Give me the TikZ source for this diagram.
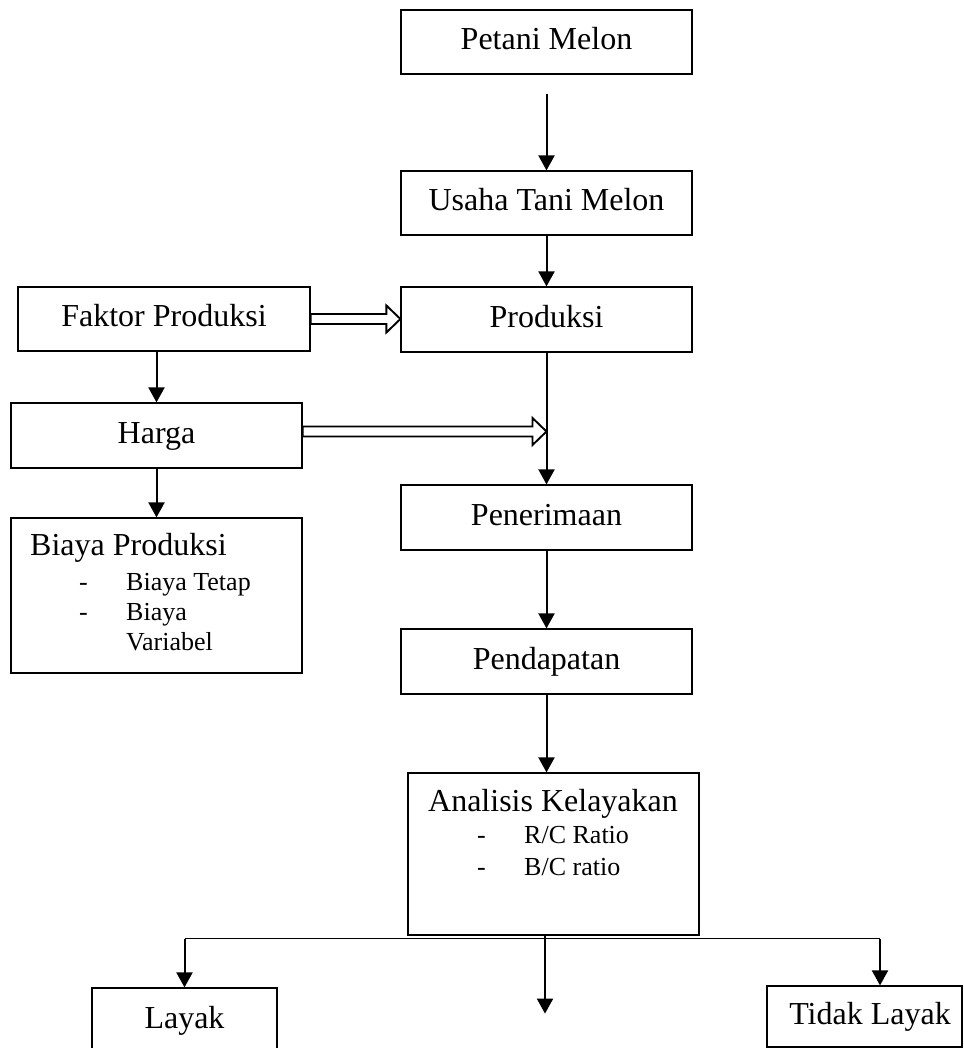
\documentclass[tikz,border=0pt]{standalone}
\usepackage{fontspec}
\setmainfont{Liberation Serif}
\usetikzlibrary{arrows.meta,calc}
\newcommand\mainsz{\fontsize{32pt}{38pt}\selectfont}
\newcommand\subsz{\fontsize{26pt}{31pt}\selectfont}
\begin{document}
\begin{tikzpicture}[x=1pt,y=-1pt,
  box/.style={draw,line width=1.2pt,minimum width=291pt,minimum height=64pt,inner sep=0pt,
    font=\mainsz,text height=22pt,text depth=7pt},
  txt/.style={inner sep=0pt},
  arr/.style={line width=2pt,-{Triangle[length=15pt,width=16pt]}},
  thinline/.style={line width=1.2pt},
  hollow/.style={line width=1.9pt,line join=miter,
    to path={let \p1=(\tikztostart), \p2=(\tikztotarget) in
      (\x1,\y1+5pt) -- (\x2-14pt,\y2+5pt) -- (\x2-14pt,\y2+13.5pt) -- (\x2,\y2)
      -- (\x2-14pt,\y2-13.5pt) -- (\x2-14pt,\y2-5pt) -- (\x1,\y1-5pt) -- cycle}}]
\useasboundingbox (0,0) rectangle (963,1048);
\clip (0,0) rectangle (963,1048);

% main column
\node[box] (petani) at (546.5,42) {Petani Melon};
\node[box] (usaha) at (546.5,203) {Usaha Tani Melon};
\node[box,minimum height=65pt] (produksi) at (546.5,319.5) {Produksi};
\node[box,minimum height=65pt] (penerimaan) at (546.5,517.5) {Penerimaan};
\node[box,minimum height=65pt] (pendapatan) at (546.5,661.5) {Pendapatan};
\node[box,minimum height=162pt] (analisis) at (553.5,854) {};
\node[txt,font=\mainsz,anchor=base] (analisist) at (553,811) {Analisis Kelayakan};
\node[txt,font=\subsz,anchor=base west] (d1) at (477,843) {-};
\node[txt,font=\subsz,anchor=base west] (rc) at (524,843) {R/C Ratio};
\node[txt,font=\subsz,anchor=base west] (d2) at (477,875) {-};
\node[txt,font=\subsz,anchor=base west] (bc) at (524,875) {B/C ratio};

% left column
\node[box,minimum width=292pt] (faktor) at (164,319) {Faktor Produksi};
\node[box,minimum height=65pt] (harga) at (156.5,435.5) {Harga};
\node[box,minimum width=291pt,minimum height=155pt] (biaya) at (156.5,595.5) {};
\node[txt,font=\mainsz,anchor=base west] (biayat) at (30,555) {Biaya Produksi};
\node[txt,font=\subsz,anchor=base west] (b1) at (79,590) {-};
\node[txt,font=\subsz,anchor=base west] (bt) at (126,590) {Biaya Tetap};
\node[txt,font=\subsz,anchor=base west] (b2) at (79,620) {-};
\node[txt,font=\subsz,anchor=base west] (bv) at (126,620) {Biaya};
\node[txt,font=\subsz,anchor=base west] (bv2) at (126,650) {Variabel};

% bottom
\node[box,minimum width=185pt,minimum height=66pt] (layak) at (184.5,1021) {Layak};
\node[box,minimum width=195pt,minimum height=61pt] (tidak) at (864.5,1016.5) {\hspace*{11pt}Tidak Layak};

% connectors
\draw[arr] ($(petani.south)+(0,19)$) -- (usaha.north);
\draw[arr] (usaha.south) -- (produksi.north);
\draw[arr] (produksi.south) -- (penerimaan.north);
\draw[arr] (penerimaan.south) -- (pendapatan.north);
\draw[arr] (pendapatan.south) -- (pendapatan.south |- analisis.north);
\draw[arr] (harga.north |- faktor.south) -- (harga.north);
\draw[arr] (harga.south) -- (biaya.north);

\draw[hollow] (faktor.east) to (faktor.east -| produksi.west);
\draw[hollow] ($(harga.east)+(0,-4)$) to ($(harga.east -| produksi.south)+(0,-4)$);

\coordinate (split) at ($(analisis.south)+(0,3)$);
\coordinate (tidakin) at ($(tidak.north)+(15.5,0)$);
\coordinate (midend) at ($(analisis.south)+(-8.5,78)$);
\draw[thinline] (split -| layak.north) -- (split -| tidakin);
\draw[arr] (split -| layak.north) -- (layak.north);
\draw[arr] (split -| tidakin) -- (tidakin);
\draw[arr] (analisis.south -| midend) -- (midend);
\end{tikzpicture}
\end{document}
